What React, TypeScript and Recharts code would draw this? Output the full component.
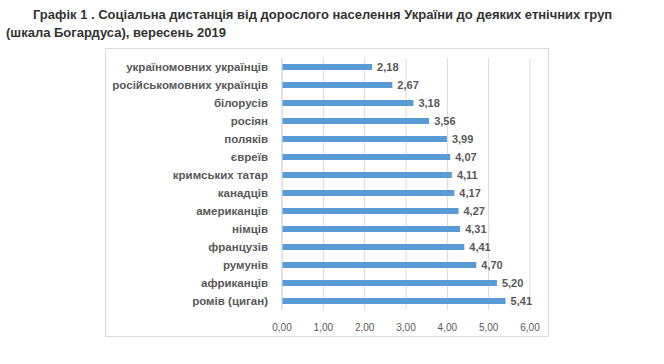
import { BarChart, Bar, XAxis, YAxis, CartesianGrid, LabelList } from 'recharts';

const groups = [
  'україномовних українців',
  'російськомовних українців',
  'білорусів',
  'росіян',
  'поляків',
  'євреїв',
  'кримських татар',
  'канадців',
  'американців',
  'німців',
  'французів',
  'румунів',
  'африканців',
  'ромів (циган)',
];
const distance = [2.18, 2.67, 3.18, 3.56, 3.99, 4.07, 4.11, 4.17, 4.27, 4.31, 4.41, 4.7, 5.2, 5.41];
const xTicks = [0, 1, 2, 3, 4, 5, 6];

const data = groups.map((g, i) => ({ group: g, value: distance[i] }));

const fmt = (v: number) => v.toFixed(2).replace('.', ',');

// plain svg text so long names don't wrap
const GroupTick = (props: any) => {
  const { x, y, payload } = props;
  return (
    <text x={x} y={y} dy={4} textAnchor="end" fontSize={11.5} fontWeight="bold" fill="#595959">
      {payload.value}
    </text>
  );
};

export default function App() {
  return (
    <div style={{ position: 'absolute', left: 0, top: 0, width: 664, height: 364, background: '#fff', fontFamily: 'Arial, "Liberation Sans", sans-serif' }}>
      <div style={{ position: 'absolute', left: 6, top: 6, fontSize: 13, fontWeight: 'bold', color: '#333', lineHeight: '18px', whiteSpace: 'nowrap' }}>
        <div style={{ paddingLeft: 27 }}>Графік 1 . Соціальна дистанція від дорослого населення України до деяких етнічних груп</div>
        <div>(шкала Богардуса), вересень 2019</div>
      </div>
      <div style={{ position: 'absolute', left: 105, top: 48, width: 444, height: 289, border: '1px solid #d9d9d9', boxSizing: 'border-box' }}>
        <BarChart
          width={442}
          height={287}
          data={data}
          layout="vertical"
          margin={{ top: 9, right: 18, bottom: 0, left: 0 }}
        >
          <CartesianGrid horizontal={false} stroke="#d9d9d9" />
          <XAxis
            type="number"
            domain={[0, 6]}
            ticks={xTicks}
            tickFormatter={fmt}
            axisLine={false}
            tickLine={false}
            tickMargin={8}
            height={26}
            tick={{ fontSize: 10, fill: '#595959' }}
          />
          <YAxis
            type="category"
            dataKey="group"
            width={176}
            axisLine={{ stroke: '#d9d9d9' }}
            tickLine={false}
            tickSize={0}
            tickMargin={14}
            interval={0}
            tick={<GroupTick />}
          />
          <Bar dataKey="value" fill="#5b9bd5" barSize={6} isAnimationActive={false}>
            <LabelList
              dataKey="value"
              position="right"
              offset={5}
              formatter={(v: number) => fmt(v)}
              style={{ fontSize: 11, fill: '#595959', fontWeight: 'bold' }}
            />
          </Bar>
        </BarChart>
      </div>
    </div>
  );
}
